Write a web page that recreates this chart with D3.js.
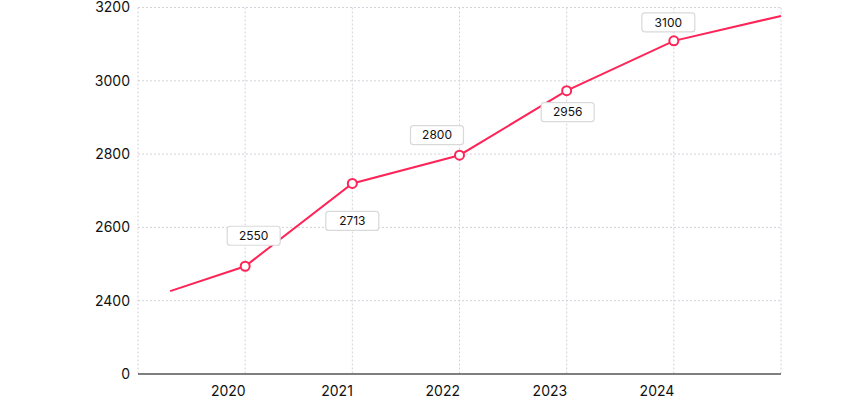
<!DOCTYPE html>
<html>
<head>
<meta charset="utf-8">
<script src="https://cdn.jsdelivr.net/npm/d3@7"></script>
<style>
html,body{margin:0;padding:0;background:#fff;}
svg{display:block;font-family:Inter,"Noto Sans",sans-serif;}
</style>
</head>
<body>
<svg id="chart" width="850" height="400"></svg>
<script>
// ---- data ----
const xTickYears = [2020, 2021, 2022, 2023, 2024];
const yTickValues = [0, 2400, 2600, 2800, 3000, 3200];
const lineYears = [2019.3, 2020, 2021, 2022, 2023, 2024, 2025];
const lineValues = [2426, 2494, 2720, 2797, 2973, 3109, 3177];
const pointYears = [2020, 2021, 2022, 2023, 2024];
const pointValues = [2494, 2720, 2797, 2973, 3109];
const labelTexts = ["2550", "2713", "2800", "2956", "3100"];

// ---- layout / style ----
const labelOffsets = [[8.5, -30.5], [0, 37.5], [-22.5, -20], [1, 21.5], [-5.5, -18.5]];
const mLeft = 138, mRight = 781, mTop = 7.5, mBottom = 374;
const red = "#ff2457", grid = "#d6d0da";

const svg = d3.select("#chart");
const x = d3.scaleLinear().domain([2019, 2025]).range([mLeft, mRight]);
const step = (mBottom - mTop) / 5;
const y = d3.scaleLinear().domain([0, 2400, 3200]).range([mBottom, mBottom - step, mTop]);

// grid
const g = svg.append("g");
g.selectAll("line.h").data(yTickValues.filter(v => v > 0)).join("line")
  .attr("x1", mLeft).attr("x2", mRight)
  .attr("y1", d => y(d)).attr("y2", d => y(d))
  .attr("stroke", grid).attr("stroke-width", 1).attr("stroke-dasharray", "2,2");
g.selectAll("line.v").data([2019, ...xTickYears, 2025]).join("line")
  .attr("x1", d => x(d)).attr("x2", d => x(d))
  .attr("y1", mTop).attr("y2", mBottom)
  .attr("stroke", grid).attr("stroke-width", 1).attr("stroke-dasharray", "2,2");

// y labels
const yAxis = d3.axisLeft(y).tickValues(yTickValues).tickSize(0).tickPadding(8).tickFormat(d3.format("d"));
const ya = svg.append("g").attr("transform", `translate(${mLeft},0)`).call(yAxis);
ya.select(".domain").remove();
ya.selectAll("text").attr("font-size", 14).attr("fill", "#111").attr("font-family", "Inter,'Noto Sans',sans-serif");

// x axis
const xAxis = d3.axisBottom(x).tickValues(xTickYears).tickSize(0).tickPadding(9).tickFormat(d3.format("d"));
const xa = svg.append("g").attr("transform", `translate(0,${mBottom})`).call(xAxis);
xa.select(".domain").attr("stroke", "#555").attr("stroke-width", 1.5).attr("d", `M${mLeft},0H${mRight}`);
xa.selectAll("text").attr("font-size", 14).attr("fill", "#111").attr("text-anchor", "end")
  .attr("font-family", "Inter,'Noto Sans',sans-serif").attr("dy", "0.9em");

// line
const pts = lineYears.map((d, i) => [d, lineValues[i]]);
svg.append("path").datum(pts)
  .attr("d", d3.line().x(d => x(d[0])).y(d => y(d[1])))
  .attr("fill", "none").attr("stroke", red).attr("stroke-width", 2);

// points
svg.selectAll("circle.p").data(pointYears).join("circle")
  .attr("cx", d => x(d)).attr("cy", (d, i) => y(pointValues[i]))
  .attr("r", 4.5).attr("fill", "#fff").attr("stroke", red).attr("stroke-width", 2);

// labels
const lg = svg.selectAll("g.lbl").data(pointYears).join("g")
  .attr("transform", (d, i) => `translate(${x(d) + labelOffsets[i][0]},${y(pointValues[i]) + labelOffsets[i][1]})`);
lg.append("rect").attr("x", -26.5).attr("y", -9.5).attr("width", 53).attr("height", 19).attr("rx", 3)
  .attr("fill", "#fff").attr("stroke", "#d9d9d9").attr("stroke-width", 1.2);
lg.append("text").text((d, i) => labelTexts[i]).attr("text-anchor", "middle").attr("dy", "0.35em")
  .attr("font-size", 12).attr("fill", "#111");
</script>
</body>
</html>
